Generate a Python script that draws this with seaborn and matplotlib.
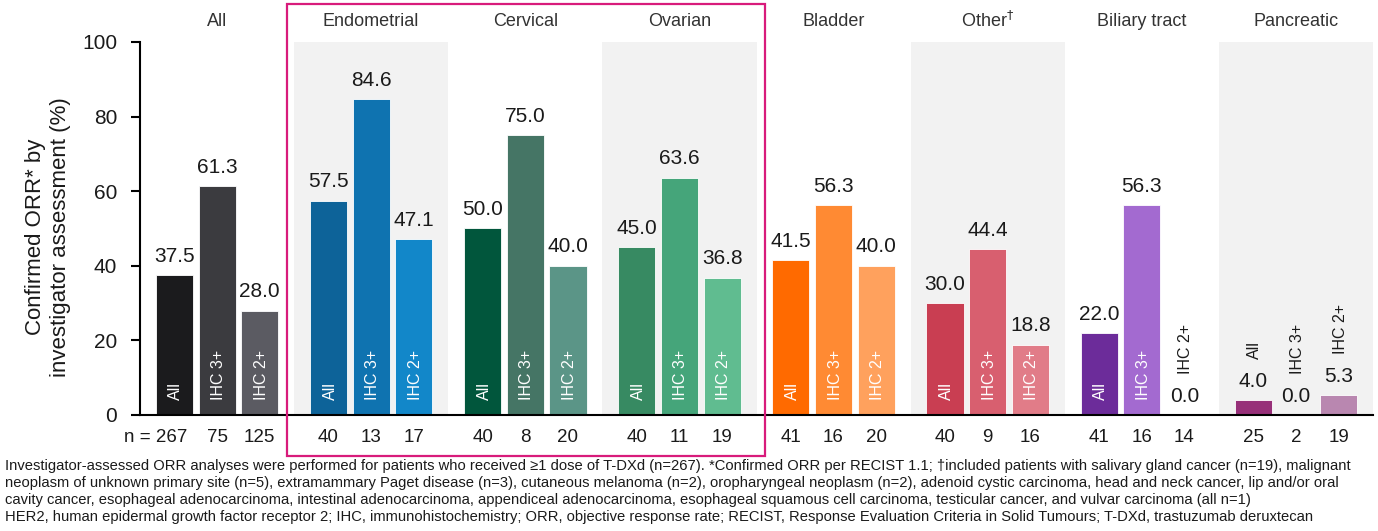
import pandas as pd
import matplotlib.pyplot as plt
import seaborn as sns
from matplotlib.patches import Rectangle

sns.set_style('white')
plt.rcParams['font.family'] = ['Liberation Sans', 'DejaVu Sans']

groups = ['All', 'Endometrial', 'Cervical', 'Ovarian', 'Bladder',
          'Other$^{\\dagger}$', 'Biliary tract', 'Pancreatic']
subgroups = ['All', 'IHC 3+', 'IHC 2+']

orr_all = [37.5, 57.5, 50.0, 45.0, 41.5, 30.0, 22.0, 4.0]
orr_ihc3 = [61.3, 84.6, 75.0, 63.6, 56.3, 44.4, 56.3, 0.0]
orr_ihc2 = [28.0, 47.1, 40.0, 36.8, 40.0, 18.8, 0.0, 5.3]

n_all = [267, 40, 40, 40, 41, 40, 41, 25]
n_ihc3 = [75, 13, 8, 11, 16, 9, 16, 2]
n_ihc2 = [125, 17, 20, 19, 20, 16, 14, 19]

col_all = ['#1b1b1d', '#0d6399', '#01563c', '#378a62', '#ff6a00', '#c93e52', '#6c2c9a', '#973079']
col_ihc3 = ['#3b3b3f', '#0f73b0', '#457565', '#45a57a', '#ff8a33', '#d85f6f', '#a36ad0', '#b06a9a']
col_ihc2 = ['#5b5b62', '#1287c9', '#5b9587', '#60bc90', '#ffa15d', '#e17c88', '#c8a0e0', '#b987b0']

shaded = [1, 3, 5, 7]

# long table for seaborn
df = pd.DataFrame({
    'group': groups * 3,
    'sub': [s for s in subgroups for _ in groups],
    'orr': orr_all + orr_ihc3 + orr_ihc2,
})
orr = [orr_all, orr_ihc3, orr_ihc2]
ns = [n_all, n_ihc3, n_ihc2]
cols = [col_all, col_ihc3, col_ihc2]

fig = plt.figure(figsize=(13.78, 5.31), dpi=100)
ax = fig.add_axes([140 / 1378, 116 / 531, 1233 / 1378, 373 / 531])

for g in shaded:
    ax.axvspan(g - 0.5, g + 0.5, color='#f2f2f2', zorder=0, lw=0)

sns.barplot(data=df, x='group', y='orr', hue='sub', order=groups,
            hue_order=subgroups, width=0.83, gap=0.13, legend=False,
            saturation=1, ax=ax, zorder=2)

txt = '#1a1a1a'
for k, cont in enumerate(ax.containers):
    for i, bar in enumerate(cont):
        v = orr[k][i]
        bar.set_facecolor(cols[k][i])
        bar.set_edgecolor('white')
        bar.set_linewidth(0.6 if v > 0 else 0)
        xc = bar.get_x() + bar.get_width() / 2
        ax.text(xc, v + 3.6, f'{v:.1f}', ha='center', va='baseline',
                fontsize=15, color=txt)
        if v > 10:
            ax.text(xc + 0.01, 4, subgroups[k], rotation=90, ha='center',
                    va='bottom', fontsize=11.5, color='white')
        else:
            ax.text(xc + 0.01, v + 11, subgroups[k], rotation=90, ha='center',
                    va='bottom', fontsize=11.5, color=txt)
        # n row
        if i == 0 and k == 0:
            ax.text(xc + 0.085, -6, f'n = {ns[k][i]}', ha='right', va='center',
                    fontsize=13.5, color=txt, clip_on=False)
        else:
            ax.text(xc, -6, str(ns[k][i]), ha='center', va='center',
                    fontsize=13.5, color=txt, clip_on=False)

for g, name in enumerate(groups):
    ax.text(g, 105.6, name, ha='center', va='center', fontsize=13,
            color='#333333', clip_on=False)

ax.set_ylim(0, 100)
ax.set_xlim(-0.5, 7.5)
ax.set_yticks([0, 20, 40, 60, 80, 100])
ax.set_xticks([])
ax.set_xlabel('')
ax.set_ylabel('')
ax.tick_params(axis='y', labelsize=15, length=6.5, width=1.5, pad=10,
               left=True, colors='black', labelcolor=txt)
for s in ['top', 'right']:
    ax.spines[s].set_visible(False)
for s in ['left', 'bottom']:
    ax.spines[s].set_color('black')
    ax.spines[s].set_linewidth(1.5)
    ax.spines[s].set_zorder(5)

fig.text(48 / 1378, 1 - 237 / 531,
         'Confirmed ORR* by\ninvestigator assessment (%)', rotation=90,
         ha='center', va='center', fontsize=16, linespacing=1.3, color=txt)

# magenta box round the gynaecological groups
ax.add_patch(Rectangle((0.454, -11), 3.10, 121.2, fill=False,
                       edgecolor='#d81b7b', lw=1.6, clip_on=False, zorder=6))

notes = [
    'Investigator-assessed ORR analyses were performed for patients who received \u22651 dose of T-DXd (n=267). '
    '*Confirmed ORR per RECIST 1.1; \u2020included patients with salivary gland cancer (n=19), malignant',
    'neoplasm of unknown primary site (n=5), extramammary Paget disease (n=3), cutaneous melanoma (n=2), '
    'oropharyngeal neoplasm (n=2), adenoid cystic carcinoma, head and neck cancer, lip and/or oral',
    'cavity cancer, esophageal adenocarcinoma, intestinal adenocarcinoma, appendiceal adenocarcinoma, '
    'esophageal squamous cell carcinoma, testicular cancer, and vulvar carcinoma (all n=1)',
    'HER2, human epidermal growth factor receptor 2; IHC, immunohistochemistry; ORR, objective response rate; '
    'RECIST, Response Evaluation Criteria in Solid Tumours; T-DXd, trastuzumab deruxtecan',
]
for j, line in enumerate(notes):
    fig.text(5 / 1378, 1 - (466 + 17 * j) / 531, line, ha='left', va='center',
             fontsize=10.6, color=txt)

fig.savefig('out.png', dpi=100)
